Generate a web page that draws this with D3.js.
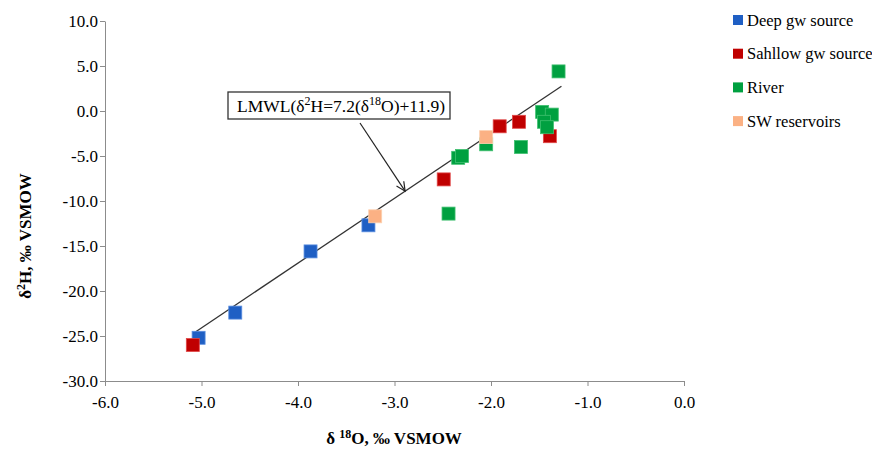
<!DOCTYPE html>
<html>
<head>
<meta charset="utf-8">
<script src="https://cdn.jsdelivr.net/npm/d3@7"></script>
<style>
  body { margin: 0; background: #fff; }
  text { font-family: "Liberation Serif", "Times New Roman", serif; fill: #000; }
  .axis path, .axis line { stroke: #8c8c8c; }
</style>
</head>
<body>
<div class="chart"></div>
<script>
// series names + colours
let seriesNames = ['Deep gw source', 'Sahllow gw source', 'River', 'SW reservoirs'];
let seriesColor = ['#1f5fc4', '#c00000', '#00a040', '#fbb184'];
let seriesStroke = ['#5a8ee0', '#e04848', '#40c070', '#fdd0b0'];

// points (d18O, d2H)
let deepX = [-5.03, -4.65, -3.87, -3.27];
let deepY = [-25.2, -22.4, -15.6, -12.7];
let shallowX = [-5.09, -2.49, -1.91, -1.71, -1.39];
let shallowY = [-26.0, -7.6, -1.7, -1.2, -2.8];
let riverX = [-2.44, -2.34, -2.30, -2.05, -1.69, -1.47, -1.37, -1.45, -1.42, -1.30];
let riverY = [-11.4, -5.2, -5.0, -3.7, -4.0, -0.1, -0.4, -1.2, -1.8, 4.4];
let swX = [-3.20, -2.05];
let swY = [-11.7, -2.9];

// LMWL: d2H = 7.2*d18O + 11.9
let lmwlSlope = 7.2;
let lmwlIntercept = 11.9;
let lmwlRange = [-5.09, -1.27];
let arrowTip = -2.89;

let xTicks = [-6, -5, -4, -3, -2, -1, 0];
let yTicks = [10, 5, 0, -5, -10, -15, -20, -25, -30];

let w = 872, h = 455;
let serif = '"Liberation Serif", "Times New Roman", serif';

let svg = d3.select('.chart').append('svg')
  .attr('width', w)
  .attr('height', h);

let x = d3.scaleLinear().domain([-6, 0]).range([105, 684]);
let y = d3.scaleLinear().domain([-30, 10]).range([381, 21]);

// plain hyphen like the original, not the unicode minus
let fmt = function(d){ return d3.format('.1f')(d).replace('\u2212', '-'); };

// axes
let xAxis = d3.axisBottom(x).tickValues(xTicks).tickFormat(fmt).tickSize(5).tickSizeOuter(0);
let xg = svg.append('g').attr('class', 'axis')
  .attr('transform', 'translate(0,' + y(-30) + ')')
  .call(xAxis)
  .attr('font-family', serif)
  .attr('font-size', 17);
xg.selectAll('text').attr('y', 15).attr('dy', '0.71em');

let yAxis = d3.axisLeft(y).tickValues(yTicks).tickFormat(fmt).tickSize(5).tickSizeOuter(0);
let yg = svg.append('g').attr('class', 'axis')
  .attr('transform', 'translate(' + x(-6) + ',0)')
  .call(yAxis)
  .attr('font-family', serif)
  .attr('font-size', 17);
yg.selectAll('text').attr('x', -7);

svg.selectAll('.axis text').attr('fill', '#000');

// LMWL line
svg.append('line')
  .attr('x1', x(lmwlRange[0])).attr('y1', y(lmwlSlope * lmwlRange[0] + lmwlIntercept))
  .attr('x2', x(lmwlRange[1])).attr('y2', y(lmwlSlope * lmwlRange[1] + lmwlIntercept))
  .attr('stroke', '#333').attr('stroke-width', 1.3);

// points
let series = [
  [deepX, deepY],
  [shallowX, shallowY],
  [riverX, riverY],
  [swX, swY]
];
let ms = 13;
series.forEach(function(s, i){
  let pts = s[0].map(function(v, j){ return {x: v, y: s[1][j]}; });
  svg.append('g').selectAll('rect')
    .data(pts)
    .enter()
    .append('rect')
      .attr('x', function(d){ return x(d.x) - ms / 2; })
      .attr('y', function(d){ return y(d.y) - ms / 2; })
      .attr('width', ms)
      .attr('height', ms)
      .attr('fill', seriesColor[i])
      .attr('stroke', seriesStroke[i])
      .attr('stroke-width', 0.8);
});

// annotation box + arrow
let tipX = x(arrowTip), tipY = y(lmwlSlope * arrowTip + lmwlIntercept);
let tailX = 360, tailY = 123;
svg.append('line')
  .attr('x1', tailX).attr('y1', tailY)
  .attr('x2', tipX).attr('y2', tipY)
  .attr('stroke', '#222').attr('stroke-width', 1.2);
let ang = Math.atan2(tipY - tailY, tipX - tailX);
let hl = 10, ha = 0.45;
svg.append('path')
  .attr('d', 'M' + (tipX - hl * Math.cos(ang - ha)) + ',' + (tipY - hl * Math.sin(ang - ha)) +
    'L' + tipX + ',' + tipY +
    'L' + (tipX - hl * Math.cos(ang + ha)) + ',' + (tipY - hl * Math.sin(ang + ha)))
  .attr('fill', 'none').attr('stroke', '#222').attr('stroke-width', 1.2);

svg.append('rect')
  .attr('x', 228).attr('y', 92).attr('width', 222).attr('height', 27)
  .attr('fill', '#fff').attr('stroke', '#333').attr('stroke-width', 1.3);

let ann = svg.append('text')
  .attr('x', 237).attr('y', 112)
  .style('font-size', '17.5px');
ann.append('tspan').text('LMWL(δ');
ann.append('tspan').text('2').attr('dy', -7).style('font-size', '12px');
ann.append('tspan').text('H=7.2(δ').attr('dy', 7);
ann.append('tspan').text('18').attr('dy', -7).style('font-size', '12px');
ann.append('tspan').text('O)+11.9)').attr('dy', 7);

// axis titles
let xt = svg.append('text')
  .attr('x', 394).attr('y', 444)
  .attr('text-anchor', 'middle')
  .style('font-size', '17px').style('font-weight', 'bold');
xt.append('tspan').text('δ ');
xt.append('tspan').text('18').attr('dy', -6).style('font-size', '12px');
xt.append('tspan').text('O, ‰ VSMOW').attr('dy', 6);

let yt = svg.append('text')
  .attr('transform', 'translate(31,236) rotate(-90)')
  .attr('text-anchor', 'middle')
  .style('font-size', '17px').style('font-weight', 'bold');
yt.append('tspan').text('δ');
yt.append('tspan').text('2').attr('dy', -6).style('font-size', '12px');
yt.append('tspan').text('H, ‰ VSMOW').attr('dy', 6);

// legend
let legend = svg.append('g').selectAll('g')
  .data(seriesNames)
  .enter()
  .append('g')
  .attr('transform', function(d, i){ return 'translate(733,' + (20 + i * 33.7) + ')'; });
legend.append('rect')
  .attr('x', 0).attr('y', -5).attr('width', 10).attr('height', 10)
  .attr('fill', function(d, i){ return seriesColor[i]; });
legend.append('text')
  .attr('x', 14).attr('y', 5.5)
  .style('font-size', '16.5px')
  .text(function(d){ return d; });
</script>
</body>
</html>
